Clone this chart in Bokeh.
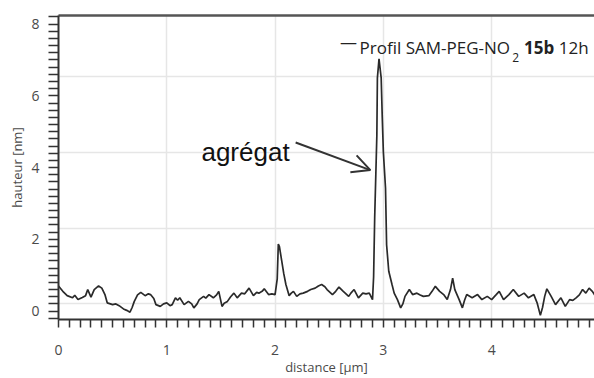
from bokeh.plotting import figure
from bokeh.models import (Range1d, FixedTicker, LinearAxis, Label, Arrow, OpenHead,
                          CustomJSTickFormatter)
from bokeh.embed import file_html
from bokeh.resources import INLINE

# profile data: distance [µm], height [nm]
distance = [0.00, 0.04, 0.08, 0.13, 0.15, 0.18, 0.22, 0.25, 0.27, 0.30, 0.33, 0.37, 0.40, 0.43,
            0.45, 0.50, 0.53, 0.56, 0.60, 0.63, 0.66, 0.68, 0.70, 0.73, 0.76, 0.80, 0.83, 0.85,
            0.88, 0.90, 0.94, 0.97, 1.00, 1.03, 1.05, 1.08, 1.10, 1.12, 1.16, 1.20, 1.23, 1.25,
            1.28, 1.30, 1.34, 1.36, 1.39, 1.43, 1.46, 1.48, 1.51, 1.53, 1.56, 1.59, 1.62, 1.65,
            1.69, 1.72, 1.76, 1.80, 1.83, 1.85, 1.88, 1.90, 1.94, 1.97, 2.00, 2.02, 2.03, 2.04,
            2.06, 2.08, 2.10, 2.13, 2.15, 2.17, 2.20, 2.23, 2.26, 2.30, 2.33, 2.37, 2.40, 2.43,
            2.46, 2.48, 2.53, 2.56, 2.59, 2.63, 2.68, 2.70, 2.73, 2.77, 2.81, 2.84, 2.87, 2.90,
            2.91, 2.92, 2.94, 2.945, 2.96, 2.98, 2.99, 3.00, 3.02, 3.03, 3.05, 3.08, 3.10, 3.13,
            3.16, 3.18, 3.20, 3.24, 3.27, 3.31, 3.34, 3.37, 3.42, 3.45, 3.48, 3.52, 3.56, 3.59,
            3.62, 3.64, 3.66, 3.70, 3.73, 3.75, 3.77, 3.82, 3.87, 3.91, 3.96, 4.00, 4.04, 4.07,
            4.11, 4.16, 4.20, 4.25, 4.30, 4.34, 4.39, 4.42, 4.45, 4.47, 4.49, 4.51, 4.55, 4.59,
            4.64, 4.68, 4.72, 4.75, 4.78, 4.81, 4.84, 4.87, 4.90, 4.93, 4.96]
height = [0.70, 0.55, 0.43, 0.37, 0.44, 0.32, 0.38, 0.43, 0.60, 0.39, 0.60, 0.70, 0.64, 0.45,
          0.23, 0.18, 0.20, 0.15, 0.06, 0.02, -0.03, 0.10, 0.27, 0.45, 0.52, 0.43, 0.48, 0.46,
          0.35, 0.18, 0.13, 0.20, 0.23, 0.15, 0.18, 0.37, 0.30, 0.37, 0.18, 0.27, 0.20, 0.09,
          0.20, 0.32, 0.41, 0.36, 0.46, 0.37, 0.45, 0.55, 0.13, 0.22, 0.27, 0.40, 0.50, 0.37,
          0.50, 0.48, 0.64, 0.43, 0.52, 0.50, 0.55, 0.62, 0.46, 0.48, 0.46, 0.90, 1.87, 1.80,
          1.43, 1.05, 0.74, 0.43, 0.50, 0.55, 0.41, 0.48, 0.50, 0.55, 0.60, 0.64, 0.70, 0.74,
          0.68, 0.60, 0.46, 0.55, 0.67, 0.55, 0.41, 0.50, 0.60, 0.37, 0.50, 0.48, 0.50, 0.32,
          0.95, 2.60, 4.90, 6.50, 7.03, 6.50, 5.40, 4.44, 3.43, 1.85, 1.11, 0.74, 0.50, 0.32,
          0.09, 0.20, 0.41, 0.60, 0.46, 0.50, 0.45, 0.41, 0.43, 0.55, 0.69, 0.55, 0.45, 0.32,
          0.60, 0.92, 0.60, 0.32, 0.09, 0.30, 0.46, 0.37, 0.46, 0.32, 0.41, 0.32, 0.45, 0.55,
          0.32, 0.46, 0.60, 0.41, 0.50, 0.37, 0.46, 0.23, -0.12, 0.10, 0.41, 0.62, 0.41, 0.18,
          0.37, 0.13, 0.32, 0.30, 0.37, 0.45, 0.60, 0.50, 0.64, 0.55, 0.41]

x_grid_lines = [1, 2, 3, 4]
y_grid_lines = [0.21, 2.31, 4.42, 6.55]

legend_parts = ["Profil SAM-PEG-NO", "2", "15b", "12h"]
annotation_text = "agrégat"

# tick marks: 10 subdivisions per labelled interval (labels only on 1 µm / 2 nm steps)
x_tick_marks = [i / 10 for i in range(0, 51)]
y_tick_marks = [i / 5 for i in range(-1, 42)]

TXT = "#4a4a4a"
AX = "#333333"

p = figure(width=594, height=378, output_backend="svg", toolbar_location=None,
           x_range=Range1d(0, 4.95), y_range=Range1d(-0.235, 8.24),
           min_border_left=58, min_border_right=0, min_border_top=15, min_border_bottom=57,
           background_fill_color="white", border_fill_color="white")
p.outline_line_color = None

p.line(distance, height, line_color="#2a2a2a", line_width=1.7)

# grids
p.xgrid.ticker = FixedTicker(ticks=x_grid_lines)
p.ygrid.ticker = FixedTicker(ticks=y_grid_lines)
for g in (p.xgrid, p.ygrid):
    g.grid_line_color = "#e6e6e6"
    g.grid_line_width = 1.5

# axes
xa = p.xaxis[0]
xa.ticker = FixedTicker(ticks=x_tick_marks)
xa.formatter = CustomJSTickFormatter(
    code="return Math.abs(tick - Math.round(tick)) < 1e-6 ? Math.round(tick).toString() : '';")
xa.axis_label = "distance [µm]"
xa.bounds = (-0.12, 4.95)
ya = p.yaxis[0]
ya.ticker = FixedTicker(ticks=y_tick_marks)
ya.formatter = CustomJSTickFormatter(
    code="const r = Math.round(tick); return (Math.abs(tick - r) < 1e-6 && r % 2 == 0) ? r.toString() : '';")
ya.axis_label = "hauteur [nm]"
ya.bounds = (-0.54, 8.24)
for a in (xa, ya):
    a.axis_line_color = AX
    a.axis_line_width = 2
    a.major_tick_line_color = AX
    a.major_tick_line_width = 1.5
    a.minor_tick_line_color = None
    a.major_tick_in = 0
    a.major_label_text_font = "Open Sans"
    a.major_label_text_font_size = "14px"
    a.major_label_text_color = TXT
    a.axis_label_text_font = "Open Sans"
    a.axis_label_text_font_size = "13px"
    a.axis_label_text_font_style = "normal"
    a.axis_label_text_color = TXT
xa.major_tick_out = 8
xa.major_label_standoff = 17
xa.axis_label_standoff = 0
ya.major_tick_out = 10
ya.major_label_standoff = 9
ya.axis_label_standoff = 2

top = LinearAxis(ticker=FixedTicker(ticks=[]), axis_line_color="#555555", axis_line_width=2.5,
                 major_tick_line_color=None, minor_tick_line_color=None,
                 major_label_text_font_size="0px", bounds=(-0.12, 4.95))
p.add_layout(top, "above")

# legend (built from text pieces: subscript and bold part)
LEG_Y = 7.35
p.add_layout(Label(x=2.60, y=LEG_Y + 0.16, text="—", text_font="Open Sans", text_font_size="17px",
                   text_color="#222222", text_baseline="middle"))
p.add_layout(Label(x=2.78, y=LEG_Y, text=legend_parts[0], text_font="Open Sans",
                   text_font_size="17px", text_color="#222222", text_baseline="alphabetic"))
p.add_layout(Label(x=4.19, y=7.06, text=legend_parts[1], text_font="Open Sans",
                   text_font_size="12px", text_color="#222222", text_baseline="alphabetic"))
p.add_layout(Label(x=4.30, y=LEG_Y, text=legend_parts[2], text_font="Open Sans",
                   text_font_size="17px", text_font_style="bold", text_color="#222222",
                   text_baseline="alphabetic"))
p.add_layout(Label(x=4.62, y=LEG_Y, text=legend_parts[3], text_font="Open Sans",
                   text_font_size="17px", text_color="#222222", text_baseline="alphabetic"))

# annotation
p.add_layout(Label(x=1.32, y=4.43, text=annotation_text, text_font="Liberation Sans",
                   text_font_size="26px", text_color="#111111", text_baseline="alphabetic"))
p.add_layout(Arrow(end=OpenHead(size=18, line_width=2, line_color="#333333"),
                   x_start=2.19, y_start=4.70, x_end=2.88, y_end=3.93,
                   line_width=2, line_color="#333333"))

open("out.html", "w").write(file_html(p, INLINE))
